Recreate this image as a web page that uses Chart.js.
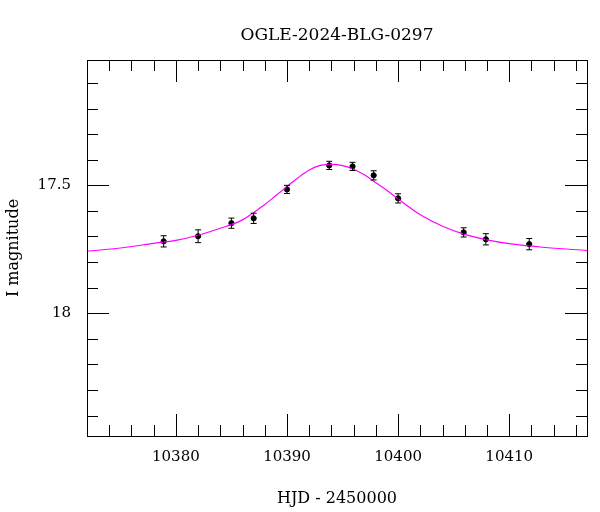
<!DOCTYPE html>
<html><head><meta charset="utf-8">
<script src="https://cdn.jsdelivr.net/npm/chart.js@4"></script>
<style>body{margin:0;background:#fff}#w{width:600px;height:512px}</style>
</head><body><div id="w"><canvas id="c"></canvas></div>
<script>
const obsX = [10378.9,10382.0,10385.0,10387.0,10390.0,10393.8,10395.9,10397.8,10400.0,10405.9,10407.9,10411.8];
const obsY = [17.719,17.699,17.648,17.629,17.516,17.422,17.426,17.461,17.551,17.684,17.711,17.730];
const obsErr = [0.022,0.025,0.020,0.020,0.016,0.016,0.016,0.018,0.018,0.018,0.022,0.022];
const modelX = [10372,10375,10378,10380,10382,10384,10386,10388,10389,10390,10391,10392,10393,10394,10395,10396,10397,10398,10399,10400,10402,10404,10406,10408,10410,10413,10417];
const modelY = [17.758,17.745,17.727,17.715,17.695,17.668,17.635,17.575,17.54,17.505,17.47,17.44,17.422,17.418,17.423,17.437,17.46,17.49,17.52,17.553,17.615,17.66,17.692,17.713,17.728,17.742,17.755];
const xLabels = [10380,10390,10400,10410];
const yLabels = [17.5,18];
const F = "'DejaVu Serif', serif";
const C = {left:87,right:587,top:60,bottom:436};
const deco = {id:'deco',afterDraw(ch){
  const {ctx,scales:{x,y}}=ch; const a=ch.chartArea;
  ctx.save(); ctx.strokeStyle='#000'; ctx.lineWidth=1;
  ctx.strokeRect(a.left+0.5,a.top+0.5,a.right-a.left,a.bottom-a.top);
  ctx.beginPath();
  for(let v=10372;v<=10417;v+=2){const p=Math.round(x.getPixelForValue(v))+0.5;const L=(v%10===0)?22:11;
    ctx.moveTo(p,a.bottom);ctx.lineTo(p,a.bottom-L);ctx.moveTo(p,a.top);ctx.lineTo(p,a.top+L);}
  for(let i=171;i<=184;i++){const v=i/10;const p=Math.round(y.getPixelForValue(v))+0.5;const L=(i%5===0)?22:11;
    ctx.moveTo(a.left,p);ctx.lineTo(a.left+L,p);ctx.moveTo(a.right,p);ctx.lineTo(a.right-L,p);}
  ctx.stroke();
  ctx.beginPath();
  obsX.forEach((vx,i)=>{const px=x.getPixelForValue(vx);const t=y.getPixelForValue(obsY[i]-obsErr[i]);const b=y.getPixelForValue(obsY[i]+obsErr[i]);
    ctx.moveTo(px,t);ctx.lineTo(px,b);ctx.moveTo(px-3,t);ctx.lineTo(px+3,t);ctx.moveTo(px-3,b);ctx.lineTo(px+3,b);});
  ctx.stroke();
  ctx.fillStyle='#000';ctx.font="17px "+F;ctx.textAlign='center';ctx.textBaseline='middle';
  ctx.fillText('OGLE-2024-BLG-0297',(a.left+a.right)/2,36);
  ctx.restore();
}};
new Chart(document.getElementById('c'),{
  type:'scatter',
  data:{datasets:[
    {type:'line',data:modelX.map((v,i)=>({x:v,y:modelY[i]})),borderColor:'#ff00ff',borderWidth:1.2,pointRadius:0,cubicInterpolationMode:'monotone',fill:false},
    {data:obsX.map((v,i)=>({x:v,y:obsY[i]})),backgroundColor:'#000',borderColor:'#000',pointRadius:2.6}
  ]},
  options:{animation:false,responsive:true,maintainAspectRatio:false,
    layout:{padding:{top:C.top,right:600-C.right,left:0,bottom:0}},
    plugins:{legend:{display:false},tooltip:{enabled:false}},
    scales:{
      x:{type:'linear',min:10372,max:10417,grid:{display:false},border:{display:false},
        afterBuildTicks(s){s.ticks=xLabels.map(v=>({value:v}));},
        afterFit(s){s.height=512-C.bottom;},
        ticks:{color:'#000',font:{family:F,size:15},padding:4,maxRotation:0,callback:v=>String(v)},
        title:{display:true,text:'HJD - 2450000',color:'#000',font:{family:F,size:16},padding:{top:2}}},
      y:{type:'linear',reverse:true,min:17.01,max:18.48,grid:{display:false},border:{display:false},
        afterBuildTicks(s){s.ticks=yLabels.map(v=>({value:v}));},
        afterFit(s){s.width=C.left;},
        ticks:{color:'#000',font:{family:F,size:15},padding:8,callback:v=>String(v)},
        title:{display:true,text:'I magnitude',color:'#000',font:{family:F,size:16},padding:{bottom:10}}}
    }},
  plugins:[deco]
});
</script></body></html>
